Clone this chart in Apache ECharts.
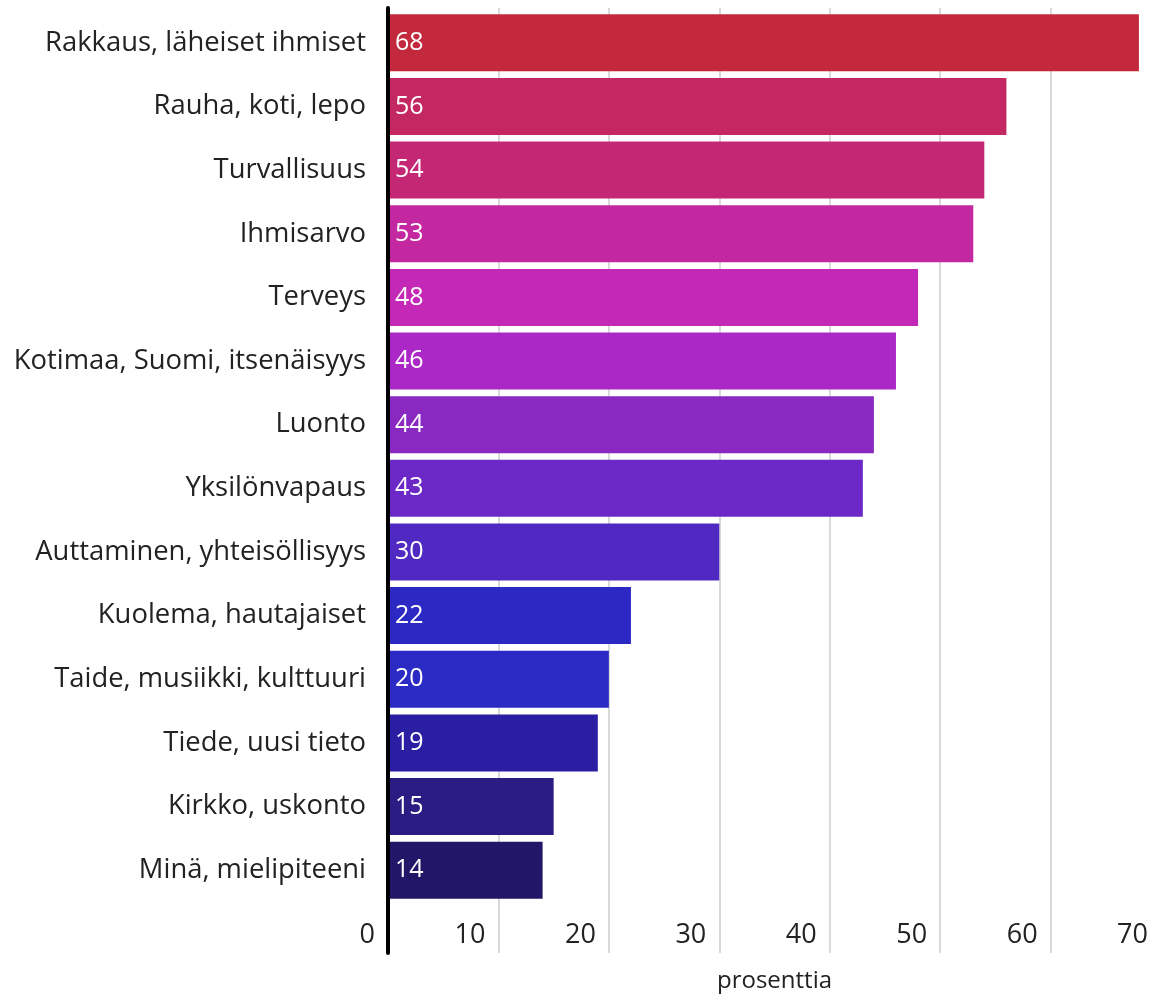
<!DOCTYPE html>
<html>
<head>
<meta charset="utf-8">
<script src="https://cdn.jsdelivr.net/npm/echarts@6/dist/echarts.min.js"></script>
<style>
html,body{margin:0;padding:0;background:#fff;}
#chart{width:1151px;height:998px;}
</style>
</head>
<body>
<div id="chart"></div>
<script>
const categories = [
  "Rakkaus, läheiset ihmiset",
  "Rauha, koti, lepo",
  "Turvallisuus",
  "Ihmisarvo",
  "Terveys",
  "Kotimaa, Suomi, itsenäisyys",
  "Luonto",
  "Yksilönvapaus",
  "Auttaminen, yhteisöllisyys",
  "Kuolema, hautajaiset",
  "Taide, musiikki, kulttuuri",
  "Tiede, uusi tieto",
  "Kirkko, uskonto",
  "Minä, mielipiteeni"
];
const values = [68, 56, 54, 53, 48, 46, 44, 43, 30, 22, 20, 19, 15, 14];
const barColors = [
  "#c4283c", "#c42862", "#c42874", "#c428a0", "#c428b6", "#ac28c6", "#8a28c2",
  "#6c28c6", "#5028c2", "#2c28c4", "#2c2ac4", "#2a1ea2", "#2a1c82", "#221668"
];
const xTicks = { min: 0, max: 70, interval: 10 };
const axisName = "prosenttia";

const FONT = "Open Sans";
const chart = echarts.init(document.getElementById('chart'), null, {renderer: 'canvas'});
chart.setOption({
  animation: false,
  backgroundColor: '#fff',
  textStyle: { fontFamily: FONT },
  grid: [
    { left: 388, width: 773, top: 11, height: 891, outerBoundsMode: 'none', containLabel: false },
    { left: 388, width: 773, top: 8, height: 945, outerBoundsMode: 'none', containLabel: false }
  ],
  xAxis: [
    { gridIndex: 0, type: 'value', min: xTicks.min, max: xTicks.max, interval: xTicks.interval, show: false },
    {
      gridIndex: 1, type: 'value', min: xTicks.min, max: xTicks.max, interval: xTicks.interval,
      axisLine: { show: false },
      axisTick: { show: false },
      splitLine: { show: true, lineStyle: { color: '#cccccc', width: 1.5 } },
      axisLabel: {
        inside: true, margin: 18, align: 'right', verticalAlign: 'middle',
        padding: [0, 13, 0, 0], fontSize: 27, color: '#222', fontFamily: FONT
      },
      name: axisName, nameLocation: 'middle', nameGap: 16,
      nameTextStyle: { fontSize: 24, color: '#222', fontFamily: FONT }
    }
  ],
  yAxis: [
    {
      gridIndex: 0, type: 'category', inverse: true, data: categories,
      axisLine: { show: false }, axisTick: { show: false },
      axisLabel: { margin: 22, fontSize: 27.4, color: '#222', fontFamily: FONT }
    },
    {
      gridIndex: 1, type: 'value', z: 10,
      axisLine: { show: true, lineStyle: { color: '#000', width: 4 } },
      axisTick: { show: false }, axisLabel: { show: false }, splitLine: { show: false }
    }
  ],
  series: [{
    type: 'bar', xAxisIndex: 0, yAxisIndex: 0,
    barCategoryGap: '10.4%',
    data: values.map((v, i) => ({ value: v, itemStyle: { color: barColors[i] } })),
    label: {
      show: true, position: 'insideLeft', distance: 7,
      color: '#fff', fontSize: 25, fontFamily: FONT
    }
  }]
});
</script>
</body>
</html>
